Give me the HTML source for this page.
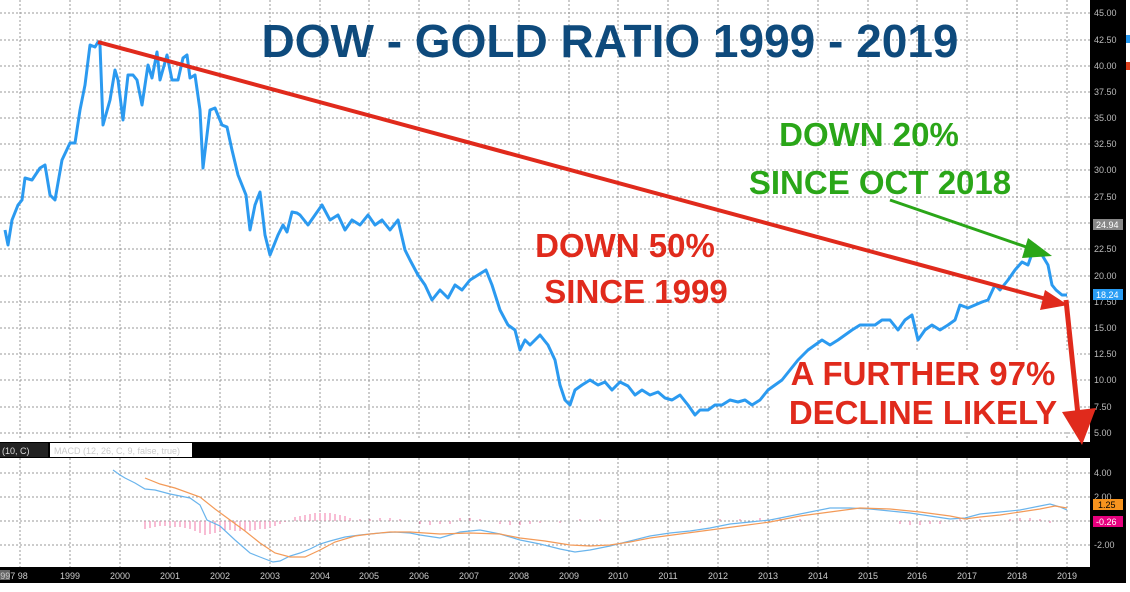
<!DOCTYPE html>
<html><head><meta charset="utf-8"><style>
html,body{margin:0;padding:0;background:#fff;}
svg{display:block;font-family:"Liberation Sans",Arial,sans-serif;}
</style></head><body>
<svg width="1130" height="592" viewBox="0 0 1130 592">
<rect width="1130" height="592" fill="#fff"/>
<!-- grid main -->
<g stroke="#999" stroke-width="1" stroke-dasharray="2,2">
<path d="M0 13H1090M0 40H1090M0 66H1090M0 92H1090M0 118H1090M0 144H1090M0 170H1090M0 197H1090M0 223H1090M0 249H1090M0 276H1090M0 302H1090M0 328H1090M0 354H1090M0 380H1090M0 407H1090M0 433H1090"/>
<path d="M20 0V440M70 0V440M120 0V440M170 0V440M220 0V440M270 0V440M320 0V440M369 0V440M419 0V440M469 0V440M519 0V440M569 0V440M618 0V440M668 0V440M718 0V440M768 0V440M818 0V440M868 0V440M917 0V440M967 0V440M1017 0V440M1067 0V440"/>
<path d="M0 473H1090M0 497H1090M0 521H1090M0 545H1090"/>
<path d="M20 458V567M70 458V567M120 458V567M170 458V567M220 458V567M270 458V567M320 458V567M369 458V567M419 458V567M469 458V567M519 458V567M569 458V567M618 458V567M668 458V567M718 458V567M768 458V567M818 458V567M868 458V567M917 458V567M967 458V567M1017 458V567M1067 458V567"/>
</g>
<!-- right axis -->
<rect x="1090" y="0" width="36" height="583" fill="#000"/>
<g fill="#bbb" font-size="9">
<text x="1094" y="16">45.00</text><text x="1094" y="43">42.50</text><text x="1094" y="69">40.00</text><text x="1094" y="95">37.50</text><text x="1094" y="121">35.00</text><text x="1094" y="147">32.50</text><text x="1094" y="173">30.00</text><text x="1094" y="200">27.50</text><text x="1094" y="252">22.50</text><text x="1094" y="279">20.00</text><text x="1094" y="305">17.50</text><text x="1094" y="331">15.00</text><text x="1094" y="357">12.50</text><text x="1094" y="383">10.00</text><text x="1094" y="410">7.50</text><text x="1094" y="436">5.00</text>
<text x="1094" y="476">4.00</text><text x="1094" y="500">2.00</text><text x="1094" y="548">-2.00</text>
</g>
<rect x="1093" y="219" width="30" height="11" fill="#888"/><text x="1096" y="228" fill="#fff" font-size="9">24.94</text>
<rect x="1093" y="289" width="30" height="11" fill="#2a9df4"/><text x="1096" y="298" fill="#fff" font-size="9">18.24</text>
<rect x="1093" y="499" width="30" height="11" fill="#f7931e"/><text x="1098" y="508" fill="#000" font-size="9">1.25</text>
<rect x="1093" y="516" width="30" height="11" fill="#e6007e"/><text x="1096" y="525" fill="#fff" font-size="9">-0.26</text>
<rect x="1126" y="35" width="4" height="8" fill="#2a9df4"/><rect x="1126" y="62" width="4" height="8" fill="#d42"/>
<!-- black bar -->
<rect x="0" y="442" width="1090" height="16" fill="#000"/>
<rect x="0" y="443" width="48" height="14" fill="#222"/><text x="2" y="454" fill="#ddd" font-size="9">(10, C)</text>
<rect x="50" y="443" width="142" height="14" fill="#fff"/><text x="54" y="454" fill="#ccc" font-size="9">MACD (12, 26, C, 9, false, true)</text>
<!-- bottom axis -->
<rect x="0" y="567" width="1126" height="16" fill="#000"/>
<rect x="0" y="570" width="10" height="10" fill="#666"/>
<g fill="#ccc" font-size="9" text-anchor="middle">
<text x="14" y="579">997 98</text><text x="70" y="579">1999</text><text x="120" y="579">2000</text><text x="170" y="579">2001</text><text x="220" y="579">2002</text><text x="270" y="579">2003</text><text x="320" y="579">2004</text><text x="369" y="579">2005</text><text x="419" y="579">2006</text><text x="469" y="579">2007</text><text x="519" y="579">2008</text><text x="569" y="579">2009</text><text x="618" y="579">2010</text><text x="668" y="579">2011</text><text x="718" y="579">2012</text><text x="768" y="579">2013</text><text x="818" y="579">2014</text><text x="868" y="579">2015</text><text x="917" y="579">2016</text><text x="967" y="579">2017</text><text x="1017" y="579">2018</text><text x="1067" y="579">2019</text>
</g>
<!-- MACD histogram -->
<g stroke="#f27aa8" stroke-width="1">
<path d="M145 521v8M150 521v7M155 521v6M160 521v5M165 521v5M170 521v5M175 521v6M180 521v6M185 521v7M190 521v8M195 521v10M200 521v12M205 521v14M210 521v13M215 521v12M220 521v10M225 521v9M230 521v9M235 521v10M240 521v10M245 521v10M250 521v10M255 521v9M260 521v8M265 521v8M270 521v6M275 521v5M280 521v3M285 521v1"/>
<path d="M295 521v-4M300 521v-5M305 521v-6M310 521v-7M315 521v-8M320 521v-8M325 521v-8M330 521v-8M335 521v-7M340 521v-6M345 521v-5M350 521v-3M360 521v-2M370 521v-2M380 521v-3M390 521v-3M400 521v-2"/>
<path d="M420 521v3M430 521v4M440 521v3M450 521v3M460 521v-3M470 521v-3M480 521v-2M500 521v3M510 521v4M520 521v4M530 521v3M540 521v2M560 521v2M580 521v-2M600 521v-2M620 521v-1M700 521v2M720 521v-2M740 521v-2M760 521v-3M780 521v-3M800 521v-2M900 521v3M910 521v4M920 521v4M930 521v3M940 521v3M960 521v-2M980 521v-2M1010 521v-2M1020 521v-3M1030 521v-3M1040 521v-2M1050 521v2"/>
</g>
<!-- MACD lines -->
<polyline fill="none" stroke="#6ab4ec" stroke-width="1.2" points="113,470 120,475 125,478 135,483 145,489 155,490 170,494 190,498 200,505 207,520 220,526 235,540 250,553 260,557 273,562 280,561 290,556 300,553 310,549 320,544 330,541 345,537 360,535 370,534 380,533 395,532 410,533 420,535 440,538 460,532 480,530 500,534 520,540 540,544 560,549 575,552 590,550 610,546 630,541 650,536 670,533 690,531 710,528 730,524 750,522 770,520 790,516 810,512 830,508 850,508 870,509 890,511 910,513 930,516 950,519 965,518 980,514 1000,512 1020,510 1040,506 1050,504 1060,507 1067,510"/>
<polyline fill="none" stroke="#f39a58" stroke-width="1.2" points="145,478 160,484 175,488 200,497 215,509 230,520 245,531 260,543 275,553 290,557 305,557 320,550 335,542 355,536 370,534 390,532 410,532 440,534 470,533 500,534 520,538 545,541 570,545 590,546 610,545 630,542 650,538 680,534 710,530 740,526 770,522 800,516 830,512 860,508 890,509 920,512 950,516 965,519 980,517 1000,515 1020,512 1040,509 1055,506 1067,508"/>
<!-- text box -->
<rect x="772" y="350" width="305" height="82" fill="#fff"/>
<!-- main series -->
<polyline fill="none" stroke="#2b9af0" stroke-width="3" stroke-linejoin="round" points="5,230 8,245 12,220 18,205 22,200 25,178 32,180 40,168 45,165 50,195 55,200 62,160 70,143 75,143 80,110 85,85 90,45 95,47 98,42 100,45 103,125 110,100 115,70 118,80 123,120 128,75 133,75 137,80 142,105 148,65 152,78 157,52 160,80 167,55 172,80 178,80 183,58 187,55 190,78 195,75 200,110 203,168 210,110 215,108 222,125 227,127 232,150 238,175 246,195 250,230 255,205 260,192 265,235 270,255 278,235 283,225 287,232 292,212 297,213 300,215 308,225 315,215 322,205 330,220 338,215 345,230 352,220 360,225 368,215 375,225 382,220 390,230 398,220 405,250 410,260 418,275 425,285 432,300 440,290 448,298 455,285 462,290 470,280 478,275 486,270 492,285 500,310 508,325 515,330 520,350 525,340 530,345 540,335 548,345 555,360 560,385 565,400 570,405 575,390 582,385 590,380 598,385 605,382 612,390 620,382 628,386 635,395 642,390 650,395 658,392 665,398 672,400 680,395 688,405 695,415 700,410 708,410 715,405 722,405 730,400 738,402 745,400 752,405 760,400 768,390 775,385 782,380 790,370 798,360 808,350 815,345 822,340 830,345 838,340 845,335 852,330 860,325 868,325 875,325 882,320 890,320 898,330 905,320 912,315 918,340 925,330 932,325 940,330 948,325 955,320 960,305 968,308 975,305 982,302 988,300 995,285 1000,290 1008,280 1015,270 1022,262 1028,265 1035,245 1042,255 1048,265 1052,285 1056,290 1062,295 1067,295"/>
<!-- red trend line -->
<line x1="98" y1="42" x2="1050" y2="300" stroke="#e02a1c" stroke-width="4"/>
<polygon points="1068,305 1045,290 1040,310" fill="#e02a1c"/>
<line x1="1066" y1="300" x2="1078" y2="415" stroke="#e02a1c" stroke-width="5"/>
<polygon points="1062,412 1096,408 1082,445" fill="#e02a1c"/>
<!-- green arrow -->
<line x1="890" y1="200" x2="1035" y2="250" stroke="#2aa618" stroke-width="3"/>
<polygon points="1052,256 1028,238 1022,258" fill="#2aa618"/>
<!-- texts -->
<text x="610" y="57" text-anchor="middle" font-size="46" font-weight="bold" fill="#0e4a7c">DOW - GOLD RATIO 1999 - 2019</text>
<text x="625" y="257" text-anchor="middle" font-size="33" font-weight="bold" fill="#e02a1c">DOWN 50%</text>
<text x="636" y="303" text-anchor="middle" font-size="33" font-weight="bold" fill="#e02a1c">SINCE 1999</text>
<text x="869" y="146" text-anchor="middle" font-size="33" font-weight="bold" fill="#2aa618">DOWN 20%</text>
<text x="880" y="194" text-anchor="middle" font-size="33" font-weight="bold" fill="#2aa618">SINCE OCT 2018</text>
<text x="923" y="385" text-anchor="middle" font-size="33" font-weight="bold" fill="#e02a1c">A FURTHER 97%</text>
<text x="923" y="424" text-anchor="middle" font-size="33" font-weight="bold" fill="#e02a1c">DECLINE LIKELY</text>
</svg>
</body></html>
